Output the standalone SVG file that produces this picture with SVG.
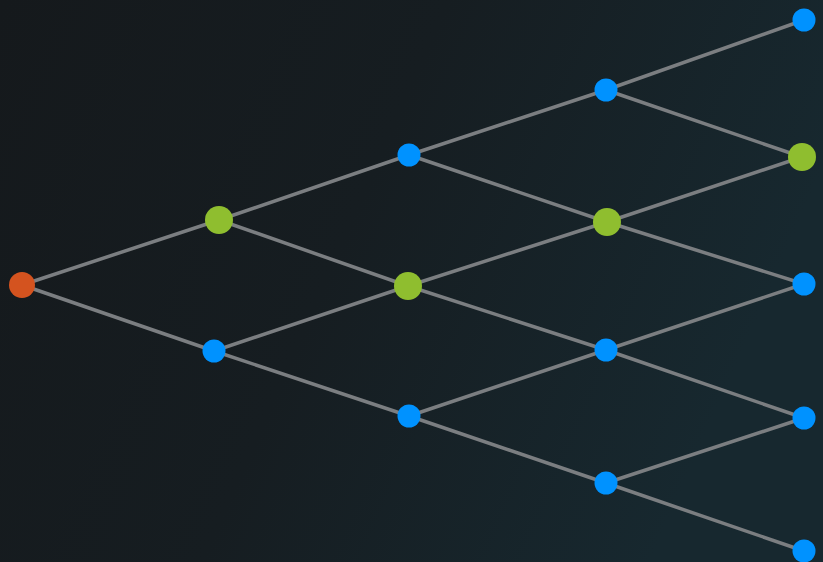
<svg xmlns="http://www.w3.org/2000/svg" width="823" height="562" viewBox="0 0 823 562">
<defs>
<linearGradient id="bg" x1="0" y1="0" x2="1" y2="0.3">
<stop offset="0" stop-color="#15191c"/>
<stop offset="0.5" stop-color="#161d21"/>
<stop offset="1" stop-color="#17282f"/>
</linearGradient>
<style>
.e{stroke:#7b7e81;stroke-width:3.5;stroke-linecap:round;fill:none}
.r{fill:#d4531f}
.g{fill:#8fbe2f}
.b{fill:#0092ff}
</style>
</defs>
<rect width="823" height="562" fill="url(#bg)"/>
<g id="edges">
<line class="e" x1="22" y1="285" x2="219" y2="220"/>
<line class="e" x1="22" y1="285" x2="214" y2="351"/>
<line class="e" x1="219" y1="220" x2="409" y2="155"/>
<line class="e" x1="219" y1="220" x2="408" y2="286"/>
<line class="e" x1="214" y1="351" x2="408" y2="286"/>
<line class="e" x1="214" y1="351" x2="409" y2="416"/>
<line class="e" x1="409" y1="155" x2="606" y2="90"/>
<line class="e" x1="409" y1="155" x2="607" y2="222"/>
<line class="e" x1="408" y1="286" x2="607" y2="222"/>
<line class="e" x1="408" y1="286" x2="606" y2="350"/>
<line class="e" x1="409" y1="416" x2="606" y2="350"/>
<line class="e" x1="409" y1="416" x2="606" y2="483"/>
<line class="e" x1="606" y1="90" x2="804" y2="20"/>
<line class="e" x1="606" y1="90" x2="802" y2="157"/>
<line class="e" x1="607" y1="222" x2="802" y2="157"/>
<line class="e" x1="607" y1="222" x2="804" y2="284"/>
<line class="e" x1="606" y1="350" x2="804" y2="284"/>
<line class="e" x1="606" y1="350" x2="804" y2="418"/>
<line class="e" x1="606" y1="483" x2="804" y2="418"/>
<line class="e" x1="606" y1="483" x2="804" y2="551"/>
</g>
<g id="n0"><circle class="r" cx="22" cy="285" r="13"/></g>
<g id="n1"><circle class="g" cx="219" cy="220" r="14"/></g>
<g id="n2"><circle class="b" cx="214" cy="351" r="11.5"/></g>
<g id="n3"><circle class="b" cx="409" cy="155" r="11.5"/></g>
<g id="n4"><circle class="g" cx="408" cy="286" r="14"/></g>
<g id="n5"><circle class="b" cx="409" cy="416" r="11.5"/></g>
<g id="n6"><circle class="b" cx="606" cy="90" r="11.5"/></g>
<g id="n7"><circle class="g" cx="607" cy="222" r="14"/></g>
<g id="n8"><circle class="b" cx="606" cy="350" r="11.5"/></g>
<g id="n9"><circle class="b" cx="606" cy="483" r="11.5"/></g>
<g id="n10"><circle class="b" cx="804" cy="20" r="11.5"/></g>
<g id="n11"><circle class="g" cx="802" cy="157" r="14"/></g>
<g id="n12"><circle class="b" cx="804" cy="284" r="11.5"/></g>
<g id="n13"><circle class="b" cx="804" cy="418" r="11.5"/></g>
<g id="n14"><circle class="b" cx="804" cy="551" r="11.5"/></g>
</svg>
